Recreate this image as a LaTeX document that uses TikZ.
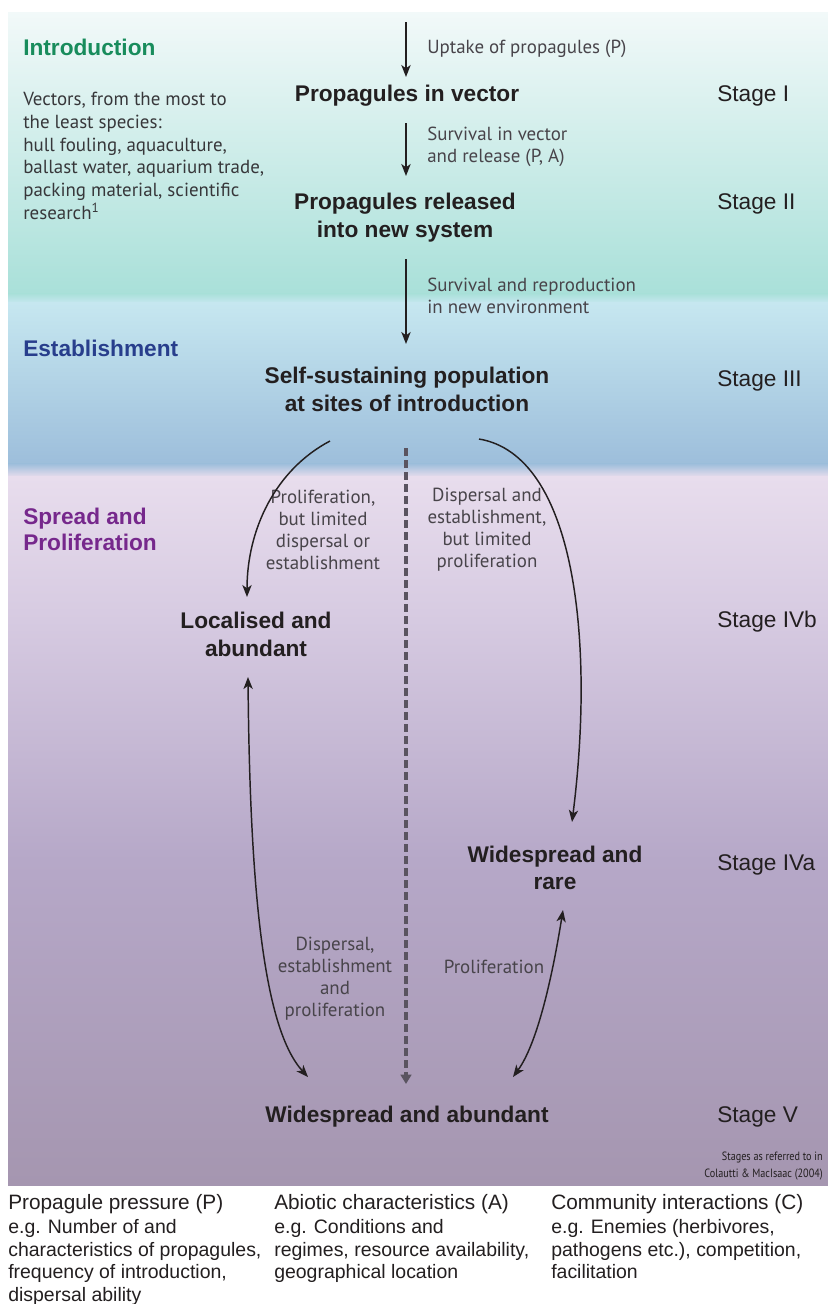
\documentclass[tikz,border=0pt]{standalone}
\usepackage{fontspec}
\setmainfont{Liberation Sans}
\newfontfamily\myr{PT Sans}
\newfontfamily\myrc[FakeStretch=0.85]{PT Sans}
\usetikzlibrary{arrows.meta,calc}
\definecolor{ink}{RGB}{35,31,32}
\definecolor{labgray}{RGB}{72,68,74}
\definecolor{vecgray}{RGB}{55,55,58}
\definecolor{introgreen}{RGB}{24,140,92}
\definecolor{estblue}{RGB}{40,62,140}
\definecolor{spreadpurple}{RGB}{118,40,140}
\definecolor{dashgray}{RGB}{90,84,96}
\definecolor{tealA}{RGB}{242,249,249}
\definecolor{tealB}{RGB}{169,224,217}
\definecolor{blueA}{RGB}{198,231,240}
\definecolor{blueB}{RGB}{157,190,219}
\definecolor{purA}{RGB}{232,221,237}
\definecolor{purB}{RGB}{214,202,225}
\definecolor{purC}{RGB}{182,168,200}
\definecolor{purD}{RGB}{165,150,176}
\begin{document}
\begin{tikzpicture}[x=0.75pt,y=-0.75pt,
  bold/.style={font=\fontsize{17}{21}\selectfont\bfseries, text=ink, align=center, inner sep=0pt},
  stagelab/.style={font=\fontsize{17}{20}\selectfont, text=ink, anchor=west, inner sep=0pt},
  gl/.style={font=\myr\fontsize{14.2}{16.5}\selectfont, text=labgray, inner sep=0pt},
  sechead/.style={font=\fontsize{17}{19.5}\selectfont\bfseries, anchor=west, inner sep=0pt, align=left},
  bhead/.style={font=\fontsize{15.6}{18}\selectfont, text=ink, anchor=west, inner sep=0pt},
  bbody/.style={font=\fontsize{14.6}{17}\selectfont, text=ink, anchor=north west, inner sep=0pt, align=left},
  arr/.style={line width=1.1pt, draw=ink, -{Stealth[length=9pt,width=7pt,inset=2.5pt]}},
  darr/.style={line width=1.1pt, draw=ink, {Stealth[length=9pt,width=7pt,inset=2.5pt]}-{Stealth[length=9pt,width=7pt,inset=2.5pt]}},
  dasharr/.style={line width=2.4pt, draw=dashgray, dash pattern=on 6pt off 3pt, -{Triangle[length=7pt,width=8pt]}}
]
\useasboundingbox (0,0) rectangle (828,1304);
\fill[white] (0,0) rectangle (828,1304);
% background bands
\shade[top color=tealA, bottom color=tealB] (8,12) rectangle (828,294);
\shade[top color=tealB, bottom color=blueA] (8,293.5) rectangle (828,303);
\shade[top color=blueA, bottom color=blueB] (8,302.5) rectangle (828,464);
\shade[top color=blueB, bottom color=purA] (8,463.5) rectangle (828,477);
\shade[top color=purA, bottom color=purB] (8,476.5) rectangle (828,620);
\shade[top color=purB, bottom color=purC] (8,619.5) rectangle (828,860);
\shade[top color=purC, bottom color=purD] (8,859.5) rectangle (828,1185);

% section headings
\node[sechead, text=introgreen] (intro) at (23,47) {Introduction};
\node[sechead, text=estblue] (estab) at (23,348) {Establishment};
\node[sechead, text=spreadpurple, font=\fontsize{17}{19.6}\selectfont\bfseries] (spread) at (23,529) {Spread and\\Proliferation};
\node[gl, text=vecgray, anchor=west, align=left, font=\myr\fontsize{14.2}{17.1}\selectfont] (vectors) at (23,156)
  {Vectors, from the most to\\the least species:\\hull fouling, aquaculture,\\ballast water, aquarium trade,\\packing material, scientific\\research\textsuperscript{1}};

% main stage nodes
\coordinate (t0) at (406,22);
\node[bold] (pv) at (407,96) {Propagules in vector};
\node[bold] (prl) at (405,218) {Propagules released\\into new system};
\node[bold] (ss) at (407,389) {Self-sustaining population\\at sites of introduction};
\node[bold] (loc) at (256,634) {Localised and\\abundant};
\node[bold, font=\fontsize{17}{20.3}\selectfont\bfseries] (wr) at (555,868) {Widespread and\\rare};
\node[bold] (wa) at (407,1117) {Widespread and abundant};

% stage labels
\node[stagelab] (s1) at (717,96) {Stage I};
\node[stagelab] (s2) at (717,204) {Stage II};
\node[stagelab] (s3) at (717,381) {Stage III};
\node[stagelab] (s4b) at (717,622) {Stage IVb};
\node[stagelab] (s4a) at (717,865) {Stage IVa};
\node[stagelab] (s5) at (717,1117) {Stage V};

% gray process labels
\node[gl, anchor=west] (l1) at (427,49) {Uptake of propagules (P)};
\node[gl, anchor=west, align=left] (l2) at (427,147) {Survival in vector\\and release (P, A)};
\node[gl, anchor=west, align=left] (l3) at (427,296) {Survival and reproduction\\in new environment};
\node[gl, align=center] (l4) at (323,530) {Proliferation,\\but limited\\dispersal or\\establishment};
\node[gl, align=center] (l5) at (487,530) {Dispersal and\\establishment,\\but limited\\proliferation};
\node[gl, align=center] (l6) at (335,979) {Dispersal,\\establishment\\and\\proliferation};
\node[gl] (l7) at (494,967) {Proliferation};

% credit
\node[anchor=east, align=right, text=ink, inner sep=0pt, font=\myrc\fontsize{9}{12.6}\selectfont] (credit) at (823,1166) {Stages as referred to in\\Colautti \& MacIsaac (2004)};

% bottom factors
\node[bhead] (h1) at (8,1204) {Propagule pressure (P)};
\node[bhead] (h2) at (274,1204) {Abiotic characteristics (A)};
\node[bhead] (h3) at (551,1204) {Community interactions (C)};
\node[bbody] (b1) at (8,1219) {e.g. Number of and\\characteristics of propagules,\\frequency of introduction,\\dispersal ability};
\node[bbody] (b2) at (274,1219) {e.g. Conditions and\\regimes, resource availability,\\geographical location};
\node[bbody] (b3) at (551,1219) {e.g. Enemies (herbivores,\\pathogens etc.), competition,\\facilitation};

% connectors
\draw[arr] (t0) -- ($(pv.center)+(-1,-19)$);
\draw[arr] ($(pv.center)+(-1,27)$) -- ($(prl.center)+(1,-42)$);
\draw[arr] ($(prl.center)+(1,41)$) -- ($(ss.center)+(-1,-45)$);
\draw[arr] ($(ss.center)+(-77,52)$) .. controls +(-55,29) and +(0,-67) .. ($(loc.center)+(-9,-37)$);
\draw[arr] ($(ss.center)+(72,50)$) .. controls +(96,16) and +(23,-182) .. ($(wr.center)+(17,-46)$);
\draw[dasharr] ($(ss.center)+(-1,59)$) -- ($(wa.center)+(-1,-33)$);
\draw[darr] ($(loc.center)+(-8,43)$) .. controls +(2,223) and +(-43,-47) .. ($(wa.center)+(-99,-40)$);
\draw[darr] ($(wr.center)+(8,42)$) .. controls +(-8,50) and +(27,-37) .. ($(wa.center)+(106,-40)$);
\end{tikzpicture}
\end{document}
